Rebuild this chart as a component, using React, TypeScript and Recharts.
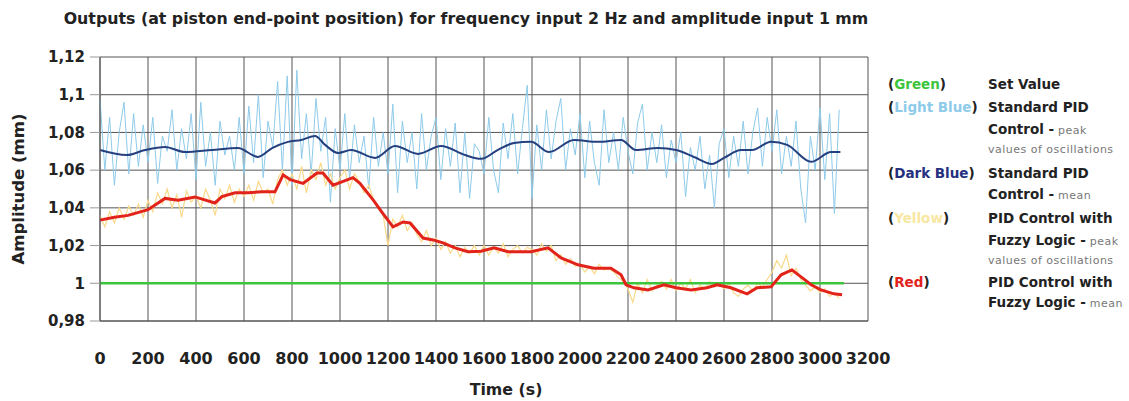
import React from "react";
import { LineChart, Line, XAxis, YAxis, CartesianGrid } from "recharts";

const TIME_TICKS = [0, 200, 400, 600, 800, 1000, 1200, 1400, 1600, 1800, 2000, 2200, 2400, 2600, 2800, 3000, 3200];
const AMP_TICKS = [0.98, 1, 1.02, 1.04, 1.06, 1.08, 1.1, 1.12];

const SAMPLE_STEP = 20;

// Light blue: Standard PID peak values (every 20 s from 0 to 3080)
const stdPidPeaks = [
  1.098, 1.060, 1.088, 1.052, 1.080, 1.096, 1.058, 1.090, 1.062, 1.084,
  1.064, 1.088, 1.053, 1.078, 1.070, 1.092, 1.060, 1.082, 1.066, 1.090,
  1.055, 1.096, 1.062, 1.080, 1.052, 1.086, 1.068, 1.078, 1.060, 1.088,
  1.058, 1.094, 1.064, 1.100, 1.056, 1.086, 1.072, 1.107, 1.060, 1.110,
  1.052, 1.113, 1.066, 1.090, 1.058, 1.098, 1.070, 1.088, 1.043, 1.082,
  1.060, 1.090, 1.055, 1.084, 1.064, 1.078, 1.050, 1.088, 1.062, 1.080,
  1.058, 1.095, 1.048, 1.086, 1.064, 1.080, 1.050, 1.090, 1.060, 1.078,
  1.088, 1.055, 1.082, 1.062, 1.085, 1.048, 1.080, 1.045, 1.074, 1.070,
  1.058, 1.088, 1.060, 1.048, 1.085, 1.066, 1.090, 1.058, 1.082, 1.105,
  1.045, 1.084, 1.060, 1.092, 1.066, 1.086, 1.098, 1.060, 1.082, 1.068,
  1.090, 1.056, 1.086, 1.064, 1.052, 1.092, 1.064, 1.080, 1.060, 1.088,
  1.070, 1.058, 1.085, 1.095, 1.060, 1.080, 1.064, 1.084, 1.056, 1.076,
  1.064, 1.080, 1.046, 1.072, 1.060, 1.078, 1.050, 1.068, 1.040, 1.074,
  1.082, 1.056, 1.078, 1.062, 1.086, 1.058, 1.080, 1.093, 1.062, 1.088,
  1.070, 1.092, 1.058, 1.078, 1.062, 1.086, 1.050, 1.032, 1.078, 1.060,
  1.093, 1.055, 1.090, 1.037, 1.092,
];

// Yellow: PID with Fuzzy Logic peak values (every 20 s from 0 to 3080)
const fuzzyPeaks = [
  1.036, 1.030, 1.038, 1.032, 1.040, 1.034, 1.041, 1.036, 1.042, 1.035,
  1.044, 1.038, 1.048, 1.042, 1.050, 1.040, 1.047, 1.035, 1.049, 1.043,
  1.046, 1.040, 1.050, 1.044, 1.036, 1.050, 1.045, 1.052, 1.043, 1.050,
  1.046, 1.052, 1.044, 1.054, 1.048, 1.050, 1.042, 1.055, 1.060, 1.052,
  1.058, 1.050, 1.062, 1.048, 1.060, 1.055, 1.064, 1.052, 1.058, 1.050,
  1.056, 1.060, 1.050, 1.058, 1.054, 1.048, 1.052, 1.044, 1.040, 1.036,
  1.020, 1.034, 1.030, 1.036, 1.028, 1.032, 1.026, 1.022, 1.028, 1.020,
  1.024, 1.018, 1.022, 1.016, 1.020, 1.014, 1.019, 1.016, 1.020, 1.015,
  1.020, 1.015, 1.019, 1.016, 1.021, 1.014, 1.018, 1.020, 1.016, 1.019,
  1.018, 1.015, 1.021, 1.017, 1.020, 1.012, 1.015, 1.010, 1.013, 1.009,
  1.010, 1.006, 1.009, 1.005, 1.010, 1.007, 1.008, 1.006, 1.003, 1.001,
  0.997, 0.990, 1.000, 0.995, 1.002, 0.996, 0.999, 1.001, 0.997, 1.002,
  0.996, 1.000, 0.997, 1.002, 0.995, 0.999, 0.997, 1.001, 0.998, 1.000,
  0.997, 1.000, 0.995, 0.993, 0.997, 0.999, 0.996, 1.000, 0.998, 1.002,
  1.006, 1.012, 1.008, 1.015, 1.004, 1.008, 1.002, 0.999, 0.996, 0.998,
  0.995, 0.997, 0.993, 0.995, 0.992,
];

// Dark blue: Standard PID mean
const stdPidMeanTimes = [0, 112, 188, 271, 354, 467, 575, 658, 717, 783, 838, 896, 938, 992, 1046, 1146, 1229, 1325, 1421, 1521, 1588, 1658, 1725, 1796, 1871, 1975, 2075, 2171, 2233, 2325, 2400, 2475, 2550, 2600, 2671, 2717, 2796, 2863, 2963, 3046, 3085];
const stdPidMeanValues = [1.0707, 1.068, 1.0707, 1.0723, 1.0696, 1.0707, 1.0717, 1.067, 1.0717, 1.075, 1.076, 1.0781, 1.0734, 1.0691, 1.0707, 1.0665, 1.0728, 1.0686, 1.0728, 1.068, 1.066, 1.0707, 1.0744, 1.075, 1.0696, 1.076, 1.075, 1.076, 1.0707, 1.0717, 1.0707, 1.067, 1.0633, 1.0665, 1.0707, 1.0707, 1.075, 1.0734, 1.0644, 1.0696, 1.0696];

// Red: PID with Fuzzy Logic mean
const fuzzyMeanTimes = [0, 60, 117, 200, 271, 325, 396, 479, 508, 563, 617, 675, 729, 763, 792, 846, 904, 929, 971, 1013, 1054, 1083, 1138, 1179, 1221, 1263, 1292, 1346, 1388, 1429, 1479, 1533, 1588, 1642, 1700, 1796, 1867, 1921, 1992, 2058, 2129, 2171, 2192, 2225, 2283, 2350, 2400, 2463, 2529, 2571, 2629, 2696, 2738, 2796, 2838, 2883, 2921, 2963, 3004, 3058, 3092];
const fuzzyMeanValues = [1.0335, 1.035, 1.036, 1.039, 1.045, 1.044, 1.0458, 1.0426, 1.046, 1.048, 1.048, 1.0485, 1.0485, 1.0575, 1.055, 1.053, 1.0585, 1.0585, 1.052, 1.054, 1.056, 1.053, 1.0442, 1.037, 1.0299, 1.0325, 1.032, 1.024, 1.023, 1.0214, 1.0188, 1.0167, 1.017, 1.0188, 1.0167, 1.0167, 1.0188, 1.0135, 1.0098, 1.008, 1.008, 1.0045, 0.9992, 0.9976, 0.9965, 0.9992, 0.9976, 0.9965, 0.9976, 0.9992, 0.9976, 0.9944, 0.9976, 0.9981, 1.0045, 1.0071, 1.0034, 0.9992, 0.9965, 0.9944, 0.9939];

// Green: set value
const setValueTimes = [0, 3100];
const setValueValues = [1, 1];

const toSeries = (times: number[], values: number[]) => times.map((t, i) => ({ t, v: values[i] }));
const sampled = (values: number[]) => values.map((v, i) => ({ t: i * SAMPLE_STEP, v }));

const lightBlueData = sampled(stdPidPeaks);
const yellowData = sampled(fuzzyPeaks);
const darkBlueData = toSeries(stdPidMeanTimes, stdPidMeanValues);
const redData = toSeries(fuzzyMeanTimes, fuzzyMeanValues);
const greenData = toSeries(setValueTimes, setValueValues);

const FONT = "'DejaVu Sans', Verdana, sans-serif";

type LegLine = { y: number; bold: string; small?: string };
const legendItems: { y: number; name: string; color: string; lines: LegLine[] }[] = [
  { y: 84, name: "Green", color: "#3cc43c", lines: [{ y: 84, bold: "Set Value" }] },
  {
    y: 107, name: "Light Blue", color: "#8ecbea",
    lines: [{ y: 107, bold: "Standard PID" }, { y: 129, bold: "Control -", small: " peak" }, { y: 148, bold: "", small: "values of oscillations" }],
  },
  {
    y: 173, name: "Dark Blue", color: "#25307f",
    lines: [{ y: 173, bold: "Standard PID" }, { y: 194, bold: "Control -", small: " mean" }],
  },
  {
    y: 218, name: "Yellow", color: "#f7e7a0",
    lines: [{ y: 218, bold: "PID Control with" }, { y: 240, bold: "Fuzzy Logic -", small: " peak" }, { y: 259, bold: "", small: "values of oscillations" }],
  },
  {
    y: 282, name: "Red", color: "#e2231a",
    lines: [{ y: 282, bold: "PID Control with" }, { y: 302, bold: "Fuzzy Logic -", small: " mean" }],
  },
];

export default function App() {
  return (
    <div style={{ position: "absolute", left: 0, top: 0, width: 1129, height: 401, background: "#fff", fontFamily: FONT }}>
      <div style={{ position: "absolute", left: 0, width: 932, top: 18, transform: "translateY(-50%)", textAlign: "center", fontWeight: "bold", fontSize: 15.8, color: "#222", whiteSpace: "nowrap" }}>
        Outputs (at piston end-point position) for frequency input 2 Hz and amplitude input 1 mm
      </div>
      <LineChart width={1129} height={401} margin={{ top: 57, right: 261, left: 0, bottom: 30 }}>
        <CartesianGrid stroke="#555" strokeWidth={1} />
        <XAxis
          type="number"
          dataKey="t"
          domain={[0, 3200]}
          ticks={TIME_TICKS}
          interval={0}
          height={50}
          tickLine={false}
          tickSize={24}
          tickMargin={8}
          axisLine={{ stroke: "#555" }}
          tick={{ fill: "#222", fontSize: 16, fontWeight: "bold", fontFamily: FONT }}
        />
        <YAxis
          type="number"
          domain={[0.98, 1.12]}
          ticks={AMP_TICKS}
          interval={0}
          width={100}
          tickSize={10}
          tickMargin={5}
          tickLine={{ stroke: "#999" }}
          axisLine={{ stroke: "#555" }}
          tickFormatter={(v: number) => String(v).replace(".", ",")}
          tick={{ fill: "#222", fontSize: 15, fontWeight: "bold", fontFamily: FONT }}
        />
        <Line data={lightBlueData} dataKey="v" type="linear" stroke="#8ecbea" strokeWidth={1} dot={false} isAnimationActive={false} />
        <Line data={darkBlueData} dataKey="v" type="monotone" stroke="#25407f" strokeWidth={2} dot={false} isAnimationActive={false} />
        <Line data={yellowData} dataKey="v" type="linear" stroke="#f9d98a" strokeWidth={1.2} dot={false} isAnimationActive={false} />
        <Line data={greenData} dataKey="v" type="linear" stroke="#3cc43c" strokeWidth={2.5} dot={false} isAnimationActive={false} />
        <Line data={redData} dataKey="v" type="linear" stroke="#e2231a" strokeWidth={3} dot={false} isAnimationActive={false} />
      </LineChart>
      <div style={{ position: "absolute", left: 18, top: 189, transform: "translate(-50%, -50%) rotate(-90deg)", fontWeight: "bold", fontSize: 16.5, color: "#222", whiteSpace: "nowrap" }}>
        Amplitude (mm)
      </div>
      <div style={{ position: "absolute", left: 506, top: 389, transform: "translate(-50%, -50%)", fontWeight: "bold", fontSize: 15.8, color: "#222", whiteSpace: "nowrap" }}>
        Time (s)
      </div>
      {legendItems.map((it) => (
        <React.Fragment key={it.name}>
          <div style={{ position: "absolute", left: 888, top: it.y, transform: "translateY(-50%)", fontSize: 13.5, fontWeight: "bold", color: "#222", whiteSpace: "nowrap" }}>
            (<span style={{ color: it.color }}>{it.name}</span>)
          </div>
          {it.lines.map((ln, i) => (
            <div key={i} style={{ position: "absolute", left: 988, top: ln.y, transform: "translateY(-50%)", fontSize: 13.5, fontWeight: "bold", color: "#222", whiteSpace: "nowrap" }}>
              {ln.bold}
              {ln.small ? <span style={{ fontWeight: "normal", fontSize: 11, letterSpacing: 0.5, color: "#777" }}>{ln.small}</span> : null}
            </div>
          ))}
        </React.Fragment>
      ))}
    </div>
  );
}
